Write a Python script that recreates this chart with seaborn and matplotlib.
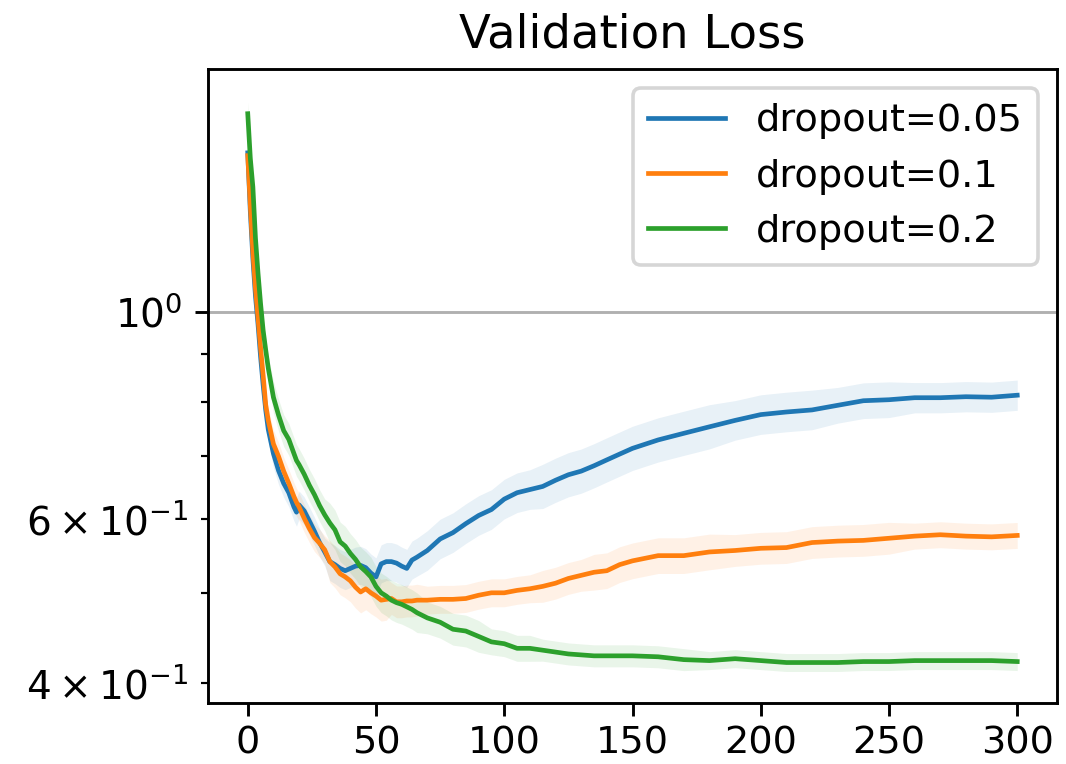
import numpy as np
import pandas as pd
import matplotlib
matplotlib.use("Agg")
import matplotlib.pyplot as plt
import seaborn as sns

# ---------------- data ----------------
epochs = [0, 1, 2, 3, 4, 5, 6, 7, 8, 10, 12, 14, 16, 18, 19, 20,
          22, 24, 26, 28, 30, 32, 34, 36, 38, 40, 42, 44, 46, 48, 50,
          52, 54, 56, 58, 60, 62, 64, 66, 70, 75, 80, 85, 90, 95, 100,
          105, 110, 115, 120, 125, 130, 135, 140, 145, 150, 160, 170,
          180, 190, 200, 210, 220, 230, 240, 250, 260, 270, 280, 290, 300]

labels = ["dropout=0.05", "dropout=0.1", "dropout=0.2"]

loss_005 = [1.48, 1.28, 1.14, 1.04, 0.97, 0.895, 0.835, 0.785, 0.748, 0.705,
            0.676, 0.655, 0.640, 0.618, 0.610, 0.621, 0.612, 0.597, 0.582,
            0.566, 0.553, 0.540, 0.536, 0.531, 0.528, 0.531, 0.534, 0.535,
            0.532, 0.525, 0.520, 0.537, 0.540, 0.540, 0.538, 0.534, 0.531,
            0.542, 0.546, 0.555, 0.571, 0.580, 0.593, 0.605, 0.614, 0.630,
            0.640, 0.645, 0.650, 0.660, 0.669, 0.675, 0.684, 0.694, 0.704,
            0.714, 0.729, 0.741, 0.753, 0.765, 0.776, 0.781, 0.785, 0.794,
            0.803, 0.805, 0.809, 0.809, 0.811, 0.810, 0.814]

loss_01 = [1.47, 1.30, 1.16, 1.06, 0.985, 0.915, 0.855, 0.795, 0.765, 0.722,
           0.700, 0.675, 0.655, 0.634, 0.625, 0.618, 0.601, 0.586, 0.573,
           0.565, 0.556, 0.540, 0.533, 0.524, 0.520, 0.515, 0.507, 0.501,
           0.505, 0.500, 0.496, 0.491, 0.492, 0.493, 0.489, 0.489, 0.490,
           0.490, 0.491, 0.491, 0.492, 0.492, 0.493, 0.497, 0.500, 0.500,
           0.503, 0.505, 0.508, 0.512, 0.518, 0.522, 0.526, 0.528, 0.536,
           0.541, 0.548, 0.548, 0.553, 0.555, 0.558, 0.559, 0.566, 0.568,
           0.569, 0.572, 0.575, 0.577, 0.575, 0.574, 0.576]

loss_02 = [1.63, 1.46, 1.36, 1.20, 1.10, 1.02, 0.955, 0.91, 0.87, 0.81,
           0.775, 0.746, 0.730, 0.705, 0.693, 0.686, 0.670, 0.652, 0.637,
           0.620, 0.606, 0.594, 0.584, 0.567, 0.561, 0.551, 0.543, 0.533,
           0.527, 0.520, 0.508, 0.500, 0.496, 0.491, 0.488, 0.486, 0.483,
           0.480, 0.476, 0.470, 0.465, 0.457, 0.455, 0.449, 0.443, 0.441,
           0.436, 0.436, 0.434, 0.432, 0.430, 0.429, 0.428, 0.428, 0.428,
           0.428, 0.427, 0.424, 0.423, 0.425, 0.423, 0.421, 0.421, 0.421,
           0.422, 0.422, 0.423, 0.423, 0.423, 0.423, 0.422]

# multiplicative half-width of the shaded band (upper = loss*f, lower = loss/f)
spread_005 = ([1.030] * 9 + [1.035] * 12 + [1.048] * 18 + [1.050] * 9 +
              [1.056] * 11 + [1.050] * 4 + [1.045] * 3 + [1.038] * 5)
spread_01 = ([1.030] * 9 + [1.035] * 12 + [1.053] * 12 + [1.040] * 6 +
             [1.035] * 9 + [1.040] * 4 + [1.045] * 7 + [1.040] * 7 + [1.0325] * 5)
spread_02 = ([1.030] * 9 + [1.040] * 12 + [1.050] * 18 + [1.040] * 5 +
             [1.0325] * 4 + [1.0275] * 10 + [1.0224] * 13)

colors = ["#1f77b4", "#ff7f0e", "#2ca02c"]

# ---------------- long-form table ----------------
rows = []
for lab, vals, spr in zip(labels, [loss_005, loss_01, loss_02],
                          [spread_005, spread_01, spread_02]):
    assert len(vals) == len(epochs) == len(spr)
    for e, v, f in zip(epochs, vals, spr):
        rows.append((e, v / f, lab))
        rows.append((e, v, lab))
        rows.append((e, v * f, lab))
df = pd.DataFrame(rows, columns=["epoch", "loss", "model"])

# ---------------- figure ----------------
DPI = 260
plt.rcParams["xtick.labelsize"] = 10.6
plt.rcParams["ytick.labelsize"] = 10.8
plt.rcParams["xtick.major.pad"] = 2.6
fig = plt.figure(figsize=(1066 / DPI, 764 / DPI), dpi=DPI)
ax = fig.add_axes([208 / 1066, 1 - 703 / 764, (1057 - 208) / 1066, (703 - 69) / 764])
ax.set_yscale("log")

sns.lineplot(data=df, x="epoch", y="loss", hue="model", hue_order=labels,
             palette=colors, estimator="median", errorbar=("pi", 100),
             err_kws={"alpha": 0.1, "linewidth": 0}, linewidth=1.3, ax=ax)

ax.set_ylim(0.381, 1.82)
ax.set_xlim(-15.5, 315.5)
ax.yaxis.grid(True, which="major", color="#b0b0b0", linewidth=0.8)
ax.set_axisbelow(True)
ax.set_xlabel("")
ax.set_ylabel("")
ax.set_title("Validation Loss", fontsize=12.9)
sns.move_legend(ax, "upper right", title=None, fontsize=10.6)

fig.savefig("out.png", dpi=DPI)
